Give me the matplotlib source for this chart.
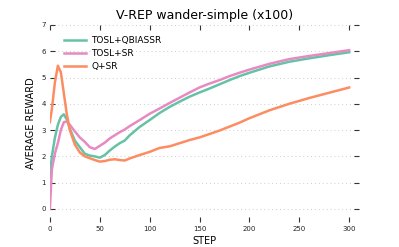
import matplotlib
matplotlib.use('Agg')
import matplotlib.pyplot as plt

steps = [0, 2, 5, 8, 11, 14, 17, 20, 25, 30, 35, 40, 45, 50, 55, 60, 65, 70,
         75, 80, 90, 100, 110, 120, 130, 140, 150, 160, 170, 180, 190, 200,
         220, 240, 260, 280, 300]

tosl_qbiassr = [1.2, 2.0, 2.7, 3.2, 3.5, 3.6, 3.4, 3.05, 2.6, 2.35, 2.1, 2.03,
                2.0, 1.95, 2.05, 2.22, 2.37, 2.5, 2.6, 2.8, 3.12, 3.38, 3.65,
                3.88, 4.08, 4.27, 4.43, 4.58, 4.74, 4.9, 5.05, 5.18, 5.42,
                5.6, 5.73, 5.85, 5.96]

tosl_sr = [0.0, 1.5, 2.1, 2.5, 3.0, 3.3, 3.33, 3.2, 2.95, 2.72, 2.55, 2.35,
           2.28, 2.4, 2.52, 2.68, 2.8, 2.92, 3.02, 3.15, 3.38, 3.62, 3.82,
           4.03, 4.23, 4.43, 4.62, 4.77, 4.9, 5.05, 5.18, 5.3, 5.52, 5.7,
           5.82, 5.93, 6.04]

q_sr = [3.3, 3.8, 4.8, 5.45, 5.2, 4.4, 3.6, 3.0, 2.45, 2.15, 2.0, 1.93, 1.86,
        1.8, 1.82, 1.87, 1.89, 1.86, 1.84, 1.92, 2.05, 2.17, 2.32, 2.38, 2.5,
        2.62, 2.72, 2.85, 2.98, 3.13, 3.28, 3.45, 3.75, 4.0, 4.22, 4.42, 4.62]

xticks = [0, 50, 100, 150, 200, 250, 300]
yticks = [0, 1, 2, 3, 4, 5, 6, 7]

fig = plt.figure(figsize=(3.99, 2.47), dpi=100)
ax = fig.add_axes([0.125, 0.101, 0.775, 0.798])

ax.plot(steps, tosl_qbiassr, color='#66c2a5', lw=1.8, label='TOSL+QBIASSR')
ax.plot(steps, tosl_sr, color='#e78ac3', lw=1.8, label='TOSL+SR')
ax.plot(steps, q_sr, color='#fc8d62', lw=1.8, label='Q+SR')

ax.set_xlim(0, 310)
ax.set_ylim(-0.5, 7)
ax.set_xticks(xticks)
ax.set_yticks(yticks)

for s in ax.spines.values():
    s.set_visible(False)
ax.tick_params(direction='in', length=3.5, width=0.8, color='#333333',
               labelsize=5, labelcolor='#222222', top=True, right=True,
               labeltop=False, labelright=False, pad=3)
ax.yaxis.grid(True, linestyle=(0, (1, 3)), color='#cccccc', lw=0.7)

ax.set_title('V-REP wander-simple (x100)', fontsize=9, pad=4)
ax.set_xlabel('STEP', fontsize=7, labelpad=3)
ax.set_ylabel('AVERAGE REWARD', fontsize=7, labelpad=4)

ax.legend(loc='upper left', bbox_to_anchor=(0.0, 1.016), frameon=False,
          fontsize=6.5, handlelength=2.4, handletextpad=0.6,
          borderaxespad=1.2, labelspacing=0.42)

fig.savefig('out.png', dpi=100)
